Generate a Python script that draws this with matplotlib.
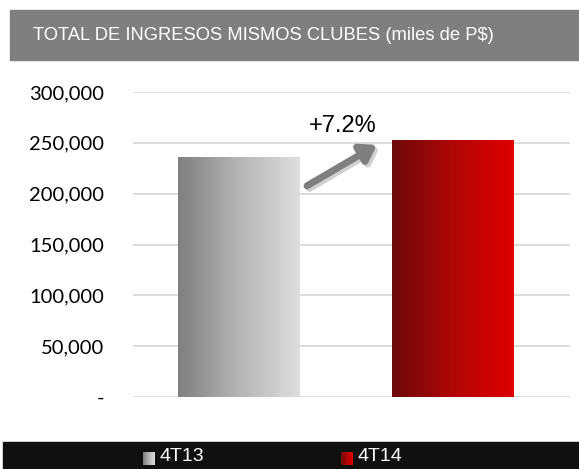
import numpy as np
import matplotlib
matplotlib.use("Agg")
import matplotlib.pyplot as plt
from matplotlib.colors import LinearSegmentedColormap
from matplotlib.patches import Rectangle
from matplotlib.ticker import FuncFormatter

periods = ["4T13", "4T14"]
ingresos = [236000, 253000]
growth_label = "+7.2%"
title = "TOTAL DE INGRESOS MISMOS CLUBES (miles de P$)"
yticks = [0, 50000, 100000, 150000, 200000, 250000, 300000]

cmaps = [LinearSegmentedColormap.from_list("g", ["#7f7f7f", "#b5b5b5", "#dedede"]),
         LinearSegmentedColormap.from_list("r", ["#6e0a0a", "#b00606", "#e00000"])]

fig = plt.figure(figsize=(5.79, 4.69), dpi=100)
ax = fig.add_axes([133/579, 72/469, 437/579, 305/469])

x = np.arange(len(periods))
bw = 0.57
grad = np.linspace(0, 1, 256).reshape(1, -1)
bars = ax.bar(x, ingresos, width=bw, color="none", zorder=2)
for b, cm in zip(bars, cmaps):
    im = ax.imshow(grad, cmap=cm, aspect="auto", zorder=2,
                   extent=[b.get_x(), b.get_x() + b.get_width(), 0, b.get_height()])
    im.set_clip_path(b)

ax.set_xlim(-0.495, 1.547)
ax.set_ylim(0, 300000)
ax.set_yticks(yticks)
ax.yaxis.set_major_formatter(FuncFormatter(lambda v, p: "-" if v == 0 else f"{v:,.0f}"))
ax.grid(axis="y", color="#d9d9d9", lw=1.3, zorder=0)
ax.set_xticks([])
ax.tick_params(axis="y", length=0, pad=21, labelsize=14.5)
for lab in ax.get_yticklabels():
    lab.set_fontfamily("Lato")
for s in ax.spines.values():
    s.set_visible(False)

# growth arrow with soft shadow
start = (0.318, 207700)
end = (0.645, 248000)
ax.annotate("", xy=(end[0] + 0.012, end[1] - 2500), xytext=(start[0] + 0.012, start[1] - 2500),
            arrowprops=dict(arrowstyle="-|>,head_length=0.9,head_width=0.6", lw=5,
                            color="#d0d0d0", shrinkA=0, shrinkB=0), zorder=3)
ax.annotate("", xy=end, xytext=start,
            arrowprops=dict(arrowstyle="-|>,head_length=0.9,head_width=0.6", lw=5,
                            color="#7f7f7f", shrinkA=0, shrinkB=0), zorder=4)
ax.text(0.486, 266700, growth_label, ha="center", va="center", fontsize=17,
        family="Liberation Sans", color="black")

# header band
fig.patches.append(Rectangle((10/579, 1 - 60/469), 569/579, 50/469, transform=fig.transFigure,
                             color="#7f7f7f", zorder=0))
fig.text(33/579, 1 - 36/469, title, color="white", fontsize=13.2, family="Liberation Sans",
         va="center", ha="left")

# legend band
fig.patches.append(Rectangle((3/579, 0), 576/579, 27/469, transform=fig.transFigure,
                             color="#101010", zorder=0))
leg_x = [143, 341]
for px, cm, name in zip(leg_x, cmaps, periods):
    lax = fig.add_axes([px/579, 4/469, 12/579, 13/469], zorder=5)
    lax.imshow(grad, cmap=cm, aspect="auto")
    lax.axis("off")
    fig.text((px + 16)/579, 12.5/469, name, color="white", fontsize=14,
             family="Liberation Sans", va="center", ha="left")

fig.savefig("out.png", dpi=100)
